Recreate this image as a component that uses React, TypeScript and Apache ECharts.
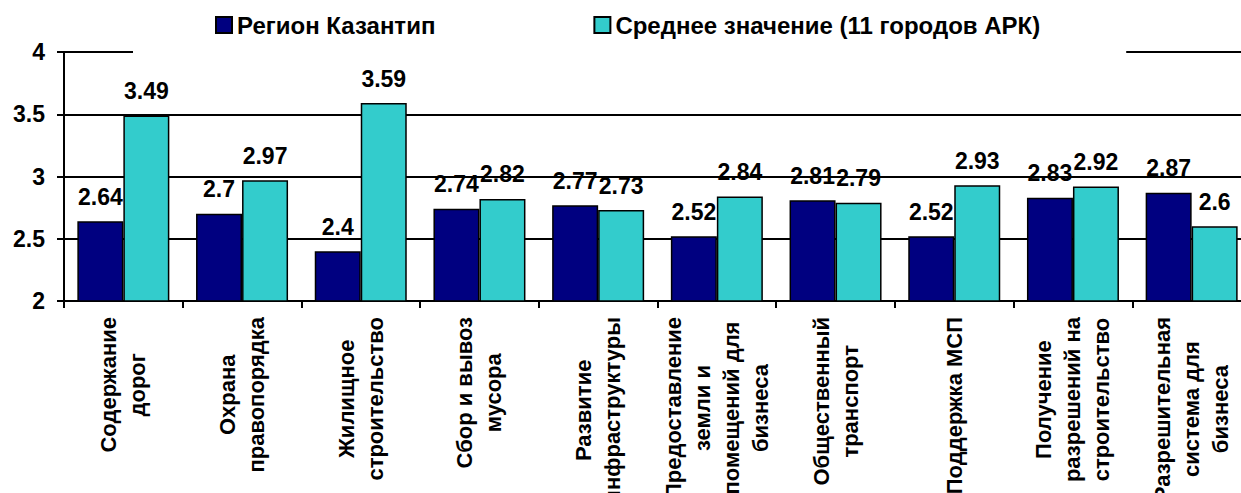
import React, { useEffect, useRef } from "react";
import * as echarts from "echarts";

const categories = [
  "Содержание\nдорог",
  "Охрана\nправопорядка",
  "Жилищное\nстроительство",
  "Сбор и вывоз\nмусора",
  "Развитие\nинфраструктуры",
  "Предоставление\nземли и\nпомещений для\nбизнеса",
  "Общественный\nтранспорт",
  "Поддержка МСП",
  "Получение\nразрешений на\nстроительство",
  "Разрешительная\nсистема для\nбизнеса",
];

const seriesNames = ["Регион Казантип", "Среднее значение (11 городов АРК)"];
const kazantip = [2.64, 2.7, 2.4, 2.74, 2.77, 2.52, 2.81, 2.52, 2.83, 2.87];
const average = [3.49, 2.97, 3.59, 2.82, 2.73, 2.84, 2.79, 2.93, 2.92, 2.6];

const yMin = 2;
const yMax = 4;
const yInterval = 0.5;

const FONT = "'Liberation Sans', Arial, sans-serif";

export default function App() {
  const ref = useRef<HTMLDivElement>(null);

  useEffect(() => {
    if (!ref.current) return;
    const chart = echarts.init(ref.current, null, { renderer: "svg" });
    const labelStyle = {
      show: true,
      position: "top" as const,
      distance: 13,
      fontFamily: FONT,
      fontWeight: "bold" as const,
      fontSize: 23,
      color: "#000",
    };
    chart.setOption({
      animation: false,
      backgroundColor: "#fff",
      textStyle: { fontFamily: FONT },
      legend: {
        left: 133,
        top: 3,
        padding: [10, 86, 20, 82],
        backgroundColor: "#fff",
        itemGap: 158,
        itemWidth: 16,
        itemHeight: 16,
        icon: "rect",
        z: 10,
        textStyle: {
          fontFamily: FONT,
          fontWeight: "bold",
          fontSize: 24,
          color: "#000",
        },
        data: seriesNames,
      },
      grid: {
        left: 64,
        top: 52,
        width: 1187,
        height: 249,
        containLabel: false,
        outerBoundsMode: "none",
      },
      xAxis: {
        type: "category",
        data: categories,
        boundaryGap: true,
        axisLine: { show: true, lineStyle: { color: "#000", width: 2 } },
        axisTick: { show: true, length: 7, lineStyle: { color: "#000", width: 2 } },
        axisLabel: {
          interval: 0,
          rotate: 90,
          margin: 16,
          formatter: (v: string) =>
            v
              .split("\n")
              .map((l) => `{c|${l}}`)
              .join("\n"),
          rich: {
            c: {
              align: "center",
              fontFamily: FONT,
              fontWeight: "bold",
              fontSize: 22,
              lineHeight: 29,
              color: "#000",
            },
          },
        },
      },
      yAxis: {
        type: "value",
        min: yMin,
        max: yMax,
        interval: yInterval,
        axisLine: { show: true, lineStyle: { color: "#000", width: 2 } },
        axisTick: { show: true, length: 7, lineStyle: { color: "#000", width: 2 } },
        axisLabel: {
          margin: 19,
          fontFamily: FONT,
          fontWeight: "bold",
          fontSize: 23,
          color: "#000",
          formatter: (v: number) => String(v),
        },
        splitLine: { show: true, lineStyle: { color: "#000", width: 2 } },
      },
      series: [
        {
          name: seriesNames[0],
          type: "bar",
          data: kazantip,
          barWidth: 46,
          barGap: "0%",
          itemStyle: { color: "#000080", borderColor: "#000", borderWidth: 1.5 },
          label: labelStyle,
        },
        {
          name: seriesNames[1],
          type: "bar",
          data: average,
          barWidth: 46,
          barGap: "0%",
          itemStyle: { color: "#33CCCC", borderColor: "#000", borderWidth: 1.5 },
          label: labelStyle,
        },
      ],
    });
    return () => chart.dispose();
  }, []);

  return (
    <div
      ref={ref}
      style={{ position: "fixed", left: 0, top: 0, width: 1241, height: 493, background: "#fff" }}
    />
  );
}
